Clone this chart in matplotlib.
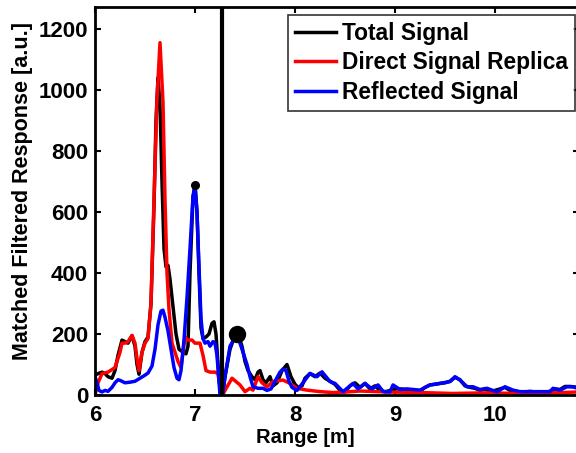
import matplotlib
matplotlib.use("Agg")
import matplotlib.pyplot as plt
import numpy as np

plt.rcParams['font.family'] = ['Liberation Sans', 'DejaVu Sans']
plt.rcParams['font.weight'] = 'bold'

# ---- data ----
total_x = [6.00, 6.03, 6.07, 6.10, 6.13, 6.17, 6.20, 6.23, 6.27, 6.30, 6.33, 6.37, 6.40, 6.42, 6.44,
           6.47, 6.50, 6.53, 6.56, 6.59, 6.61, 6.63, 6.65, 6.67, 6.69, 6.71, 6.73, 6.75, 6.78, 6.81,
           6.84, 6.88, 6.91, 6.93, 6.95, 6.98, 7.00, 7.02, 7.04, 7.06, 7.08, 7.11, 7.14, 7.17, 7.19,
           7.21, 7.23, 7.255, 7.275,
           7.30, 7.35, 7.40, 7.43, 7.47, 7.50, 7.53, 7.57, 7.60, 7.63, 7.65, 7.68, 7.71, 7.75, 7.78,
           7.82, 7.87, 7.92, 7.96, 8.00, 8.03, 8.07, 8.10, 8.15, 8.20, 8.25, 8.30, 8.35, 8.40, 8.45,
           8.50, 8.55, 8.60, 8.65, 8.70, 8.75, 8.80, 8.85, 8.90, 8.95, 9.00, 9.05, 9.10, 9.15, 9.20,
           9.25, 9.30, 9.35, 9.40, 9.45, 9.50, 9.55, 9.60, 9.65, 9.70, 9.75, 9.80, 9.85, 9.90, 9.95,
           10.00, 10.05, 10.10, 10.15, 10.20, 10.25, 10.30, 10.35, 10.40, 10.45, 10.50, 10.55, 10.60,
           10.65, 10.70, 10.75, 10.84]
total_y = [65, 70, 75, 70, 60, 55, 80, 130, 180, 175, 170, 195, 160, 100, 68,
           140, 175, 190, 300, 620, 900, 1040, 950, 700, 480, 420, 425, 380, 290, 200,
           150, 140, 135, 160, 400, 650, 690, 600, 400, 220, 185, 190, 200, 235, 240,
           200, 100, 0, 0,
           60, 150, 195, 200, 160, 110, 80, 60, 50, 75, 80, 50, 40, 60, 30,
           40, 80, 100, 60, 35, 25, 30, 55, 70, 60, 72, 55, 45, 35, 15,
           10, 30, 40, 25, 38, 20, 30, 15, 10, 15, 20, 20, 18, 15, 10,
           12, 25, 33, 35, 38, 40, 45, 58, 50, 30, 25, 22, 15, 20, 12,
           15, 20, 25, 15, 12, 10, 10, 12, 10, 8, 10, 12, 20,
           18, 28, 28, 25]

direct_x = [6.00, 6.03, 6.07, 6.13, 6.20, 6.25, 6.27, 6.30, 6.33, 6.37, 6.40, 6.42, 6.44, 6.47,
            6.50, 6.53, 6.56, 6.59, 6.62, 6.65, 6.68, 6.70, 6.72, 6.74, 6.77, 6.80, 6.83, 6.86,
            6.88, 6.90, 6.93, 6.97, 7.00, 7.05, 7.08, 7.11, 7.15, 7.20, 7.23, 7.25, 7.265, 7.275,
            7.30, 7.37, 7.45, 7.50, 7.55, 7.58, 7.63, 7.67, 7.72, 7.78, 7.88, 7.95, 8.02, 8.12,
            8.25, 8.38, 8.52, 8.65, 8.92, 9.25, 9.58, 9.90, 10.25, 10.58, 10.84]
direct_y = [0, 40, 70, 75, 90, 140, 170, 170, 175, 195, 170, 120, 80, 140,
            170, 185, 300, 640, 970, 1155, 960, 640, 400, 280, 170, 140, 110, 90,
            140, 190, 180, 180, 170, 170, 130, 80, 75, 75, 70, 30, 0, 0,
            15, 55, 33, 11, 22, 16, 60, 40, 27, 44, 49, 38, 22, 16,
            11, 8, 10, 13, 10, 8, 5, 7, 5, 7, 10]

reflected_x = [6.00, 6.02, 6.04, 6.07, 6.10, 6.13, 6.17, 6.20, 6.23, 6.25, 6.30, 6.35, 6.40, 6.45,
               6.50, 6.53, 6.57, 6.60, 6.63, 6.66, 6.68, 6.70, 6.73, 6.76, 6.79, 6.82, 6.84, 6.86,
               6.89, 6.92, 6.95, 6.98, 7.00, 7.02, 7.04, 7.06, 7.08, 7.10, 7.13, 7.15, 7.18, 7.20,
               7.22, 7.25, 7.275,
               7.30, 7.35, 7.42, 7.47, 7.52, 7.55, 7.58, 7.63, 7.68, 7.72, 7.76, 7.80, 7.85, 7.88,
               7.91, 7.94, 7.97, 8.02, 8.08, 8.15, 8.22, 8.27, 8.35, 8.40, 8.48, 8.58, 8.63, 8.70,
               8.77, 8.83, 8.88, 8.95, 8.98, 9.05, 9.12, 9.25, 9.35, 9.45, 9.55, 9.60, 9.65, 9.72,
               9.78, 9.85, 9.92, 10.02, 10.10, 10.18, 10.25, 10.40, 10.55, 10.58, 10.65, 10.72,
               10.78, 10.84]
reflected_y = [60, 40, 15, 10, 15, 12, 25, 40, 50, 48, 40, 42, 45, 55,
               65, 72, 95, 150, 230, 275, 278, 255, 210, 150, 90, 55, 50, 80,
               180, 320, 480, 650, 685, 600, 420, 250, 185, 170, 175, 160, 175, 170,
               130, 0, 0,
               60, 160, 200, 150, 100, 60, 27, 22, 22, 15, 20, 45, 75, 85,
               80, 45, 25, 15, 40, 71, 60, 76, 44, 38, 11, 38, 20, 38,
               20, 33, 12, 10, 33, 18, 20, 16, 33, 38, 44, 60, 49, 27,
               27, 18, 22, 10, 27, 16, 11, 11, 11, 22, 16, 27,
               27, 20]

series_names = ['Total Signal', 'Direct Signal Replica', 'Reflected Signal']
gate_range = 7.265
peak_point = (7.0, 690)
target_point = (7.42, 200)

# ---- figure ----
fig = plt.figure(figsize=(5.76, 4.53), dpi=100)
ax = fig.add_axes([95/576, 58/453, 484/576, 388/453])

lw = 2.5
ax.plot(total_x, total_y, color='black', lw=lw, label=series_names[0])
ax.plot(direct_x, direct_y, color='#ff0000', lw=lw, label=series_names[1])
ax.plot(reflected_x, reflected_y, color='#0000ff', lw=lw, label=series_names[2])

ax.axvline(gate_range, color='black', lw=3.0)
ax.plot([peak_point[0]], [peak_point[1]], 'o', color='black', ms=5.5)
ax.plot([target_point[0]], [target_point[1]], 'o', color='black', ms=11.5)

ax.set_xlim(6, 10.84)
ax.set_ylim(0, 1272)
ax.set_xticks([6, 7, 8, 9, 10])
ax.set_yticks([0, 200, 400, 600, 800, 1000, 1200])

for s in ax.spines.values():
    s.set_linewidth(2.0)
ax.tick_params(direction='in', length=4, width=1.5, top=True, right=True, labelsize=16)
ax.tick_params(axis='x', pad=7)
ax.tick_params(axis='y', pad=5)
for lab in ax.get_xticklabels() + ax.get_yticklabels():
    lab.set_fontweight('bold')

ax.set_xlabel('Range [m]', fontsize=14.5, fontweight='bold')
ax.set_ylabel('Matched Filtered Response [a.u.]', fontsize=15.5, fontweight='bold')
ax.xaxis.set_label_coords((305 - 95) / 484, -(443 - 395) / 388, transform=ax.transAxes)
ax.xaxis.label.set_va('baseline')
ax.yaxis.set_label_coords(-(95 - 33) / 484, (395 - 191) / 388, transform=ax.transAxes)

leg = ax.legend(loc='upper right', fontsize=16.4,
                frameon=True, fancybox=False, edgecolor='black', handlelength=1.84,
                borderpad=0.3, labelspacing=0.29, handletextpad=0.25, borderaxespad=0,
                bbox_to_anchor=(575/576, 1 - 15/453), bbox_transform=fig.transFigure)
leg.get_frame().set_linewidth(1.2)
for t in leg.get_texts():
    t.set_fontweight('bold')

fig.savefig('out.png', dpi=100)
